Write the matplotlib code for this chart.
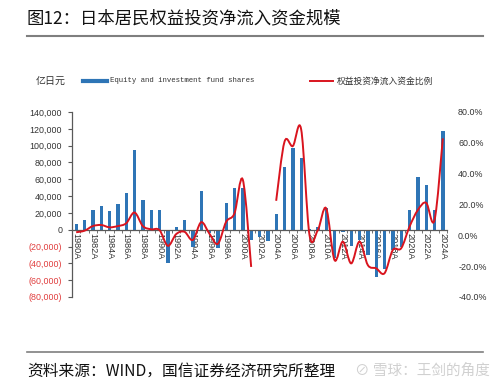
import numpy as np
import matplotlib
matplotlib.use("Agg")
import matplotlib.pyplot as plt
from matplotlib.path import Path
from matplotlib.patches import PathPatch

plt.rcParams['font.family'] = ['Liberation Sans', 'Noto Sans CJK SC', 'DejaVu Sans']

years = list(range(1980, 2025))
year_labels = [f"{y}A" for y in years]

equity_flows = [7000, 11000, 24000, 28000, 22000, 31000, 44000, 95000, 35000, 23000,
                23000, -39000, 3000, 11500, -20000, 45600, -4000, -22000, 32000, 50000,
                50000, -12000, -9000, -14000, 19000, 74000, 97500, 85600, 500, 3000,
                25400, -34000, -3000, -19500, -12000, -30000, -56600, -46500, -24000, -20000,
                23400, 62500, 53200, 23400, 117500]

ratio_pct = [2, 3, 6, 6.7, 5.2, 6, 7.8, 14.8, 6, 3.9,
             3.4, -6.8, 0.8, 2.3, -3, 8.5, 1, -5.5, 8.8, 14.3,
             36, -20.5, np.nan, np.nan, 22.4, 60.7, 57.9, 68.7, 0.2, 3.4,
             17.5, -16, -4.1, -18.2, -4.1, -19.3, -21.4, -24.6, -9.5, -8.4,
             5.6, 16.4, 21.1, 9.9, 62.9]

left_ticks = list(range(-80000, 140001, 20000))
right_ticks = list(range(-40, 81, 20))

title = "图12：日本居民权益投资净流入资金规模"
source = "资料来源：WIND，国信证券经济研究所整理"
bar_label = "Equity and investment fund shares"
line_label = "权益投资净流入资金比例"
unit_label = "亿日元"

BLUE = '#2E75B6'
RED = '#D9141E'
NEG = '#E03C3C'
W, H = 500, 386

fig = plt.figure(figsize=(5, 3.86), dpi=100)
ax = fig.add_axes([72 / W, 1 - 297 / H, 375 / W, 185 / H])
x = np.arange(len(years))
ax.bar(x, equity_flows, width=0.4, color=BLUE, zorder=2)
ax.set_xlim(-0.5, len(years) - 0.5)
ax.set_ylim(-80000, 140000)
ax.set_yticks(left_ticks)
lbls = []
for v in left_ticks:
    lbls.append("0" if v == 0 else (f"{v:,}" if v > 0 else f"({-v:,})"))
ax.set_yticklabels(lbls, fontsize=6.4)
for t, v in zip(ax.get_yticklabels(), left_ticks):
    t.set_color(NEG if v < 0 else '#333333')
ax.tick_params(axis='y', length=3, width=0.8, color='#595959', pad=4)
for s in ['top', 'right']:
    ax.spines[s].set_visible(False)
ax.spines['left'].set_color('#595959')
ax.spines['left'].set_linewidth(0.9)
ax.spines['bottom'].set_position(('data', 0))
ax.spines['bottom'].set_color('#595959')
ax.spines['bottom'].set_linewidth(0.9)
ax.set_xticks(x[::2])
ax.set_xticklabels(year_labels[::2], rotation=270, fontsize=6.6, color='#333333', va='top', ha='center')
ax.tick_params(axis='x', length=0, pad=2)
ax.set_xticks(np.arange(-0.5, len(years), 1), minor=True)
ax.tick_params(axis='x', which='minor', length=2.5, width=0.6, color='#595959')

ax2 = ax.twinx()
ax2.set_ylim(-40, 80)
ax2.set_yticks(right_ticks)
ax2.set_yticklabels([f"{v:.1f}%" for v in right_ticks], fontsize=6.4, color='#333333')
ax2.tick_params(axis='y', length=0, pad=8)
for s in ax2.spines.values():
    s.set_visible(False)


def smooth_runs(xs, ys):
    xs = np.asarray(xs, float)
    ys = np.asarray(ys, float)
    runs, cur = [], []
    for xi, yi in zip(xs, ys):
        if np.isnan(yi):
            if cur:
                runs.append(cur)
            cur = []
        else:
            cur.append((xi, yi))
    if cur:
        runs.append(cur)
    paths = []
    for r in runs:
        P = np.array(r)
        n = len(P)
        verts = [P[0]]
        codes = [Path.MOVETO]
        for i in range(n - 1):
            p0 = P[i - 1] if i > 0 else P[i]
            p1 = P[i]
            p2 = P[i + 1]
            p3 = P[i + 2] if i + 2 < n else P[i + 1]
            c1 = p1 + (p2 - p0) / 6.0
            c2 = p2 - (p3 - p1) / 6.0
            verts += [c1, c2, p2]
            codes += [Path.CURVE4] * 3
        paths.append(Path(verts, codes))
    return paths


for p in smooth_runs(x, ratio_pct):
    ax2.add_patch(PathPatch(p, fill=False, edgecolor=RED, linewidth=1.4, zorder=3))

# title & rules
fig.text(27 / W, 1 - 18 / H, title, fontsize=12.5, family=['Noto Sans CJK SC'], va='center', ha='left', color='#111111')
fig.add_artist(plt.Line2D([27 / W, 483 / W], [1 - 35.5 / H] * 2, color='#7f7f7f', linewidth=1.5))
fig.add_artist(plt.Line2D([27 / W, 483 / W], [1 - 352 / H] * 2, color='#7f7f7f', linewidth=1.2))
fig.text(27 / W, 1 - 371 / H, source, fontsize=11.3, family=['Noto Sans CJK SC'], va='center', ha='left', color='#111111')
fig.text(355 / W, 1 - 371 / H, "⊘ 雪球：王剑的角度", fontsize=10.5, family=['Noto Sans CJK SC', 'DejaVu Sans'], va='center', ha='left', color='#d0d0d0')

# legend / unit
fig.text(36 / W, 1 - 81 / H, unit_label, fontsize=7.2, family=['Noto Sans CJK SC'], va='center', ha='left', color='#333333')
fig.add_artist(plt.Line2D([83 / W, 107 / W], [1 - 81 / H] * 2, color=BLUE, linewidth=3))
fig.text(110 / W, 1 - 81 / H, bar_label, fontsize=5.3, family=['Liberation Mono'], va='center', ha='left', color='#333333')
fig.add_artist(plt.Line2D([310 / W, 333 / W], [1 - 81 / H] * 2, color=RED, linewidth=1.4))
fig.text(337 / W, 1 - 81 / H, line_label, fontsize=6.3, family=['Noto Sans CJK SC'], va='center', ha='left', color='#333333')

fig.savefig("out.png", dpi=100)
